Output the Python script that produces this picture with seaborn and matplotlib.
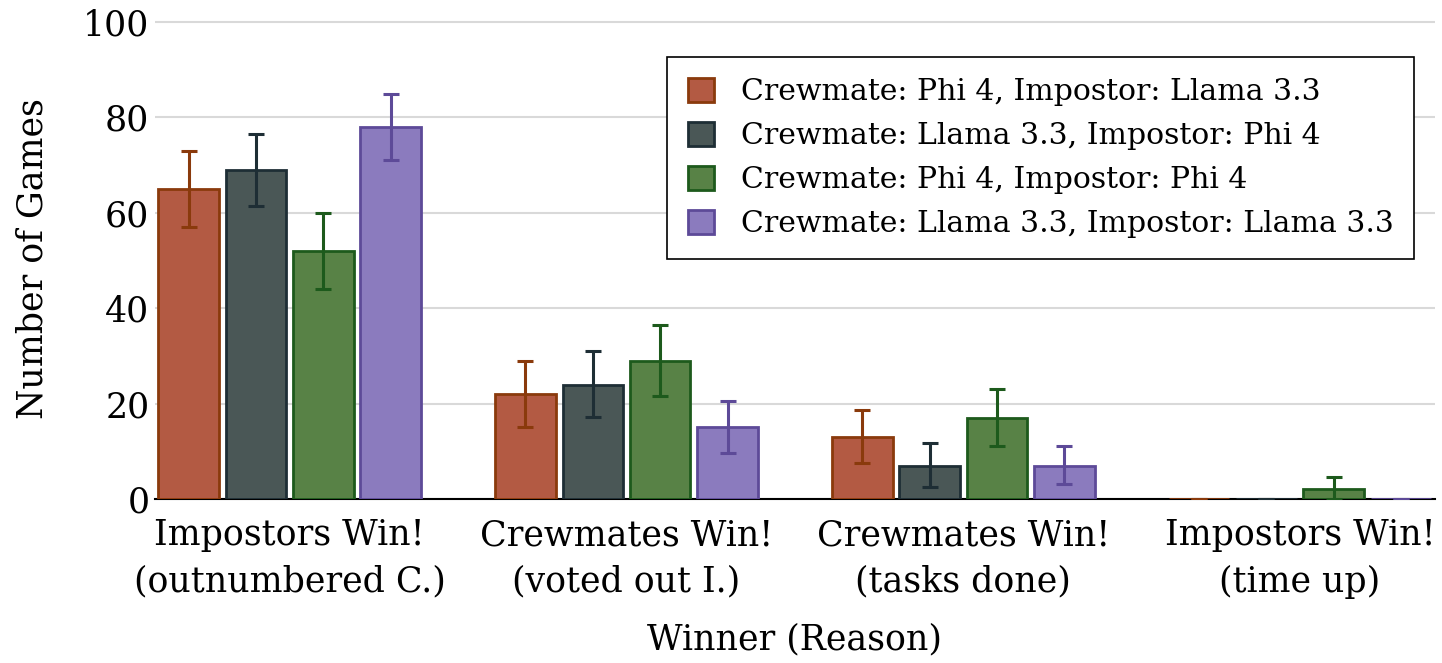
import numpy as np
import pandas as pd
import matplotlib
matplotlib.use("Agg")
import matplotlib.pyplot as plt
import seaborn as sns

# data
reasons = ["Impostors Win!\n(outnumbered C.)", "Crewmates Win!\n(voted out I.)",
           "Crewmates Win!\n(tasks done)", "Impostors Win!\n(time up)"]
matchups = ["Crewmate: Phi 4, Impostor: Llama 3.3",
            "Crewmate: Llama 3.3, Impostor: Phi 4",
            "Crewmate: Phi 4, Impostor: Phi 4",
            "Crewmate: Llama 3.3, Impostor: Llama 3.3"]
games = {
    matchups[0]: [65, 22, 13, 0],
    matchups[1]: [69, 24, 7, 0],
    matchups[2]: [52, 29, 17, 2],
    matchups[3]: [78, 15, 7, 0],
}
err_low = {
    matchups[0]: [57, 15, 7.5, 0],
    matchups[1]: [61.5, 17.2, 2.5, 0],
    matchups[2]: [44, 21.6, 11.1, 0],
    matchups[3]: [71, 9.6, 3.1, 0],
}
err_high = {
    matchups[0]: [73, 29, 18.7, 0],
    matchups[1]: [76.5, 31, 11.7, 0],
    matchups[2]: [60, 36.5, 23.1, 4.6],
    matchups[3]: [85, 20.5, 11.1, 0],
}

fill_colors = ["#B35A43", "#4A5756", "#588246", "#8B7BBE"]
edge_colors = ["#8A3A0C", "#1E2E35", "#1D5A1C", "#5D4A98"]

rows = []
for m in matchups:
    for r, v in zip(reasons, games[m]):
        rows.append({"Winner (Reason)": r, "Matchup": m, "Number of Games": v})
df = pd.DataFrame(rows)

sns.set_theme(style="whitegrid")
plt.rcParams["font.family"] = ["DejaVu Serif"]

fig = plt.figure(figsize=(14.42, 6.63), dpi=100)
ax = fig.add_axes([0.1075, 0.2474, 0.8875, 0.7266])

sns.barplot(data=df, x="Winner (Reason)", y="Number of Games", hue="Matchup",
            hue_order=matchups, order=reasons, palette=fill_colors,
            saturation=1, width=0.8, gap=0.1, errorbar=None, linewidth=2,
            ax=ax, zorder=3)

for container, m, ec in zip(ax.containers, matchups, edge_colors):
    for bar in container:
        bar.set_edgecolor(ec)
    xs = [b.get_x() + b.get_width() / 2 for b in container]
    vals = np.array(games[m], dtype=float)
    lo = np.clip(vals - np.array(err_low[m]), 0, None)
    hi = np.clip(np.array(err_high[m]) - vals, 0, None)
    ax.errorbar(xs, vals, yerr=[lo, hi], fmt="none", ecolor=ec,
                elinewidth=2.2, capsize=6, capthick=2.2, zorder=4)

ax.set_xlim(-0.4, 3.4)
ax.set_ylim(0, 101)
ax.set_yticks([0, 20, 40, 60, 80, 100])
ax.grid(axis="y", color="#d9d9d9", linewidth=1.5)
ax.grid(axis="x", visible=False)
ax.set_axisbelow(True)
for s in ["left", "right", "top"]:
    ax.spines[s].set_visible(False)
ax.spines["bottom"].set_color("black")
ax.spines["bottom"].set_linewidth(1.5)
ax.spines["bottom"].set_zorder(2)
ax.tick_params(axis="y", labelsize=25, length=0, colors="black", pad=4)
ax.tick_params(axis="x", labelsize=25, length=0, colors="black", pad=14)
for lab in ax.get_xticklabels():
    lab.set_linespacing(1.45)
ax.set_xlabel("Winner (Reason)", fontsize=25, labelpad=17, color="black")
ax.set_ylabel("Number of Games", fontsize=25, labelpad=24, color="black")

leg = ax.legend(loc="upper right", bbox_to_anchor=(0.984, 0.9176),
                fontsize=21.5, frameon=True, fancybox=False,
                handlelength=0.85, handleheight=0.85, handletextpad=0.9,
                borderpad=0.7, borderaxespad=0, labelspacing=0.53)
leg.get_frame().set_edgecolor("black")
leg.get_frame().set_linewidth(1.2)
leg.get_frame().set_alpha(1)
for h, ec in zip(leg.legend_handles, edge_colors):
    h.set_edgecolor(ec)
for t in leg.get_texts():
    t.set_color("black")

fig.savefig("out.png", dpi=100)
